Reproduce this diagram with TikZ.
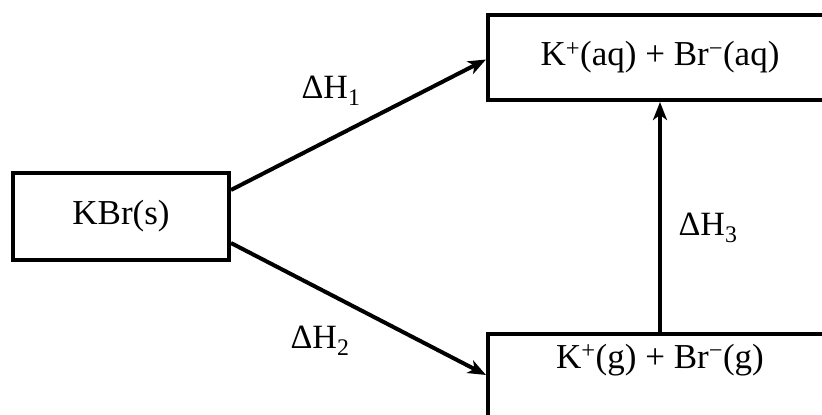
\documentclass[tikz,border=0pt]{standalone}
\usepackage{fontspec}
\setmainfont{Liberation Serif}
\usepackage{tikz}
\usetikzlibrary{arrows.meta,positioning,calc}

\begin{document}
\begin{tikzpicture}[
  x=1pt, y=-1pt,
  state/.style={draw, rectangle, line width=4pt, text centered,
                font=\fontsize{35}{38}\selectfont},
  msg/.style={-{Stealth[length=18pt,width=14pt,inset=5pt]}, line width=4pt},
  dh/.style={font=\fontsize{34}{36}\selectfont}
]
\useasboundingbox (0,0) rectangle (822,415);
\clip (0,0) rectangle (822,415);

% States
\node[state, minimum width=216pt, minimum height=87pt] (kbr) at (121,216.5) {KBr(s)};
\node[state, minimum width=344pt, minimum height=85pt] (aq)  at (660,57.5)
  {K\textsuperscript{+}(aq) + Br\textsuperscript{−}(aq)};
\node[state, minimum width=344pt, inner ysep=6pt, text height=28pt, text depth=60pt,
      anchor=north] (gas) at (660,332)
  {K\textsuperscript{+}(g) + Br\textsuperscript{−}(g)};

% Enthalpy steps
\draw[msg] ([yshift=26.5pt]kbr.east) -- ([yshift=-2pt]aq.west);
\draw[msg] ([yshift=-26.5pt]kbr.east) -- ([yshift=9pt]gas.west);
\draw[msg] (gas.north) -- (aq.south);

\node[dh] (dh1) at (331,91)  {ΔH\textsubscript{1}};
\node[dh] (dh2) at (320,341) {ΔH\textsubscript{2}};
\node[dh] (dh3) at (708,228) {ΔH\textsubscript{3}};
\end{tikzpicture}
\end{document}
